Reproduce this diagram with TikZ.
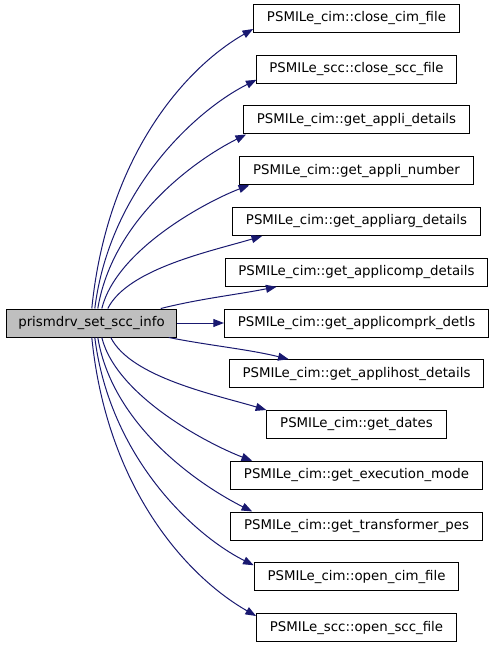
\documentclass[tikz,border=0pt]{standalone}
\usepackage{fontspec}
\setmainfont{DejaVu Sans}
\usetikzlibrary{arrows.meta,calc}
\definecolor{edgeblue}{HTML}{191970}

\begin{document}
\begin{tikzpicture}[x=0.75pt,y=-0.75pt]
\tikzset{fn/.style={rectangle,draw,line width=0.75pt,minimum height=21pt,inner xsep=10pt,inner ysep=0pt,font=\fontsize{10pt}{12pt}\selectfont},
  caller/.style={fn,fill=black!25,inner xsep=9pt},
  call/.style={draw=edgeblue,line width=0.75pt,-{Triangle[length=8pt,width=6pt]},fill=none}}
\useasboundingbox (0,0) rectangle (493,645);
% the caller on the left, every routine it calls in one column on the right
\node[caller] (main) at (91.5,323) {prismdrv\_set\_scc\_info};
\node[fn] (closecim) at (356.5,18.5) {PSMILe\_cim::close\_cim\_file};
\node[fn] (closescc) at (356.5,69.25) {PSMILe\_scc::close\_scc\_file};
\node[fn] (applidet) at (356.5,120) {PSMILe\_cim::get\_appli\_details};
\node[fn] (applinum) at (356.5,170.75) {PSMILe\_cim::get\_appli\_number};
\node[fn] (appliarg) at (356.5,221.5) {PSMILe\_cim::get\_appliarg\_details};
\node[fn] (applicomp) at (356.5,272.25) {PSMILe\_cim::get\_applicomp\_details};
\node[fn] (applicomprk) at (356.5,323) {PSMILe\_cim::get\_applicomprk\_detls};
\node[fn] (applihost) at (356.5,373.75) {PSMILe\_cim::get\_applihost\_details};
\node[fn] (dates) at (356.5,424.5) {PSMILe\_cim::get\_dates};
\node[fn] (execmode) at (356.5,475.25) {PSMILe\_cim::get\_execution\_mode};
\node[fn] (transpes) at (356.5,526) {PSMILe\_cim::get\_transformer\_pes};
\node[fn] (opencim) at (356.5,576.75) {PSMILe\_cim::open\_cim\_file};
\node[fn] (openscc) at (356.5,627.5) {PSMILe\_scc::open\_scc\_file};
\draw[call] ($(main.north west)+(86,0)$) .. controls +(15,-150) and +(-70,40) .. ($(closecim.south west)+(0,-4)$);
\draw[call] ($(main.north west)+(89,0)$) .. controls +(15,-120) and +(-60,30) .. ($(closescc.south west)+(1,-4)$);
\draw[call] ($(main.north west)+(92,0)$) .. controls +(15,-90) and +(-50,25) .. ($(applidet.south west)+(3,0)$);
\draw[call] ($(main.north west)+(96,0)$) .. controls +(15,-60) and +(-40,15) .. ($(applinum.south west)+(10,0)$);
\draw[call] ($(main.north west)+(102,0)$) .. controls +(20,-40) and +(-50,15) .. ($(appliarg.south west)+(30,0)$);
\draw[call] ($(main.north west)+(155,0)$) .. controls +(40,-10) and +(-40,8) .. ($(applicomp.south west)+(52,0)$);
\draw[call] (main) -- (applicomprk);
\draw[call] ($(main.south west)+(163,0)$) .. controls +(40,8) and +(-40,-10) .. ($(applihost.north west)+(60,0)$);
\draw[call] ($(main.south west)+(105,0)$) .. controls +(20,40) and +(-50,-15) .. (dates.north west);
\draw[call] ($(main.south west)+(96,0)$) .. controls +(15,60) and +(-40,-15) .. ($(execmode.north west)+(22,0)$);
\draw[call] ($(main.south west)+(92,0)$) .. controls +(15,90) and +(-50,-25) .. ($(transpes.north west)+(22,0)$);
\draw[call] ($(main.south west)+(89,0)$) .. controls +(15,120) and +(-60,-30) .. ($(opencim.north west)+(0,3)$);
\draw[call] ($(main.south west)+(86,0)$) .. controls +(15,150) and +(-70,-40) .. ($(openscc.north west)+(0,3)$);
\end{tikzpicture}
\end{document}
